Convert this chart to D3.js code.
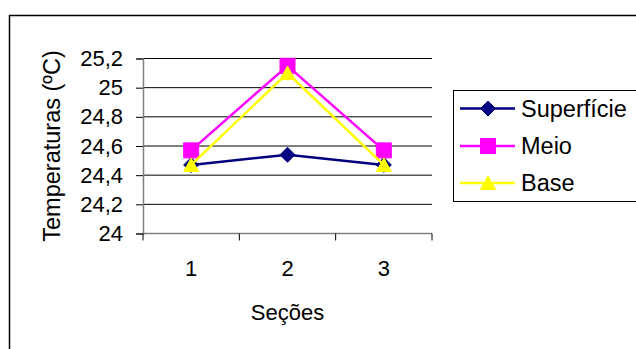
<!DOCTYPE html>
<html>
<head>
<meta charset="utf-8">
<script src="https://cdn.jsdelivr.net/npm/d3@7"></script>
<style>
  html, body { margin: 0; padding: 0; background: #fff; }
  svg { display: block; }
  text { font-family: "Liberation Sans", Arial, sans-serif; fill: #000; }
</style>
</head>
<body>
<svg id="chart" width="636" height="349"></svg>
<script>
// Sections along the x axis
const categories = ["1", "2", "3"];
// Temperature readings (ºC) per depth
const seriesNames = ["Superfície", "Meio", "Base"];
const superficie = [24.47, 24.54, 24.47];
const meio = [24.57, 25.15, 24.57];
const base = [24.47, 25.10, 24.47];
// Y axis tick values and labels
const yTicks = [24, 24.2, 24.4, 24.6, 24.8, 25, 25.2];
const yTickLabels = ["24", "24,2", "24,4", "24,6", "24,8", "25", "25,2"];

const series = [
  { name: seriesNames[0], values: superficie, color: "#000080", marker: "diamond" },
  { name: seriesNames[1], values: meio, color: "#FF00FF", marker: "square" },
  { name: seriesNames[2], values: base, color: "#FFFF00", marker: "triangle" }
];

const svg = d3.select("#chart");
const plot = { left: 143, right: 432, top: 58.5, bottom: 233.5 };

// outer chart frame
svg.append("rect")
  .attr("x", 9.5).attr("y", 15.5)
  .attr("width", 700).attr("height", 400)
  .attr("fill", "#fff").attr("stroke", "#000").attr("stroke-width", 1.5);

const x = d3.scaleBand().domain(categories).range([plot.left, plot.right]).padding(0);
const xc = c => x(c) + x.bandwidth() / 2;
const y = d3.scaleLinear().domain([24, 25.2]).range([plot.bottom, plot.top]);

// horizontal gridlines
svg.append("g").selectAll("line")
  .data(yTicks.slice(1))
  .join("line")
  .attr("x1", plot.left).attr("x2", plot.right)
  .attr("y1", d => y(d)).attr("y2", d => y(d))
  .attr("stroke", "#000").attr("stroke-width", 1);

// y axis
const yAxis = d3.axisLeft(y)
  .tickValues(yTicks)
  .tickSize(7)
  .tickPadding(13)
  .tickFormat((d, i) => yTickLabels[i]);
const gy = svg.append("g")
  .attr("transform", `translate(${plot.left},0)`)
  .call(yAxis);
gy.select(".domain").attr("stroke", "#808080").attr("stroke-width", 1.5);
gy.selectAll(".tick line").attr("stroke", "#000").attr("stroke-width", 1);
gy.selectAll(".tick text")
  .attr("font-size", 22)
  .attr("font-family", "Liberation Sans, Arial, sans-serif")
  .attr("fill", "#000");

// x axis: ticks sit on the band boundaries, labels at band centres
const gx = svg.append("g");
gx.append("line")
  .attr("x1", plot.left).attr("x2", plot.right)
  .attr("y1", plot.bottom).attr("y2", plot.bottom)
  .attr("stroke", "#808080").attr("stroke-width", 1.5);
const boundaries = categories.map(c => x(c)).concat([x(categories[categories.length - 1]) + x.bandwidth()]);
gx.selectAll("line.tk")
  .data(boundaries)
  .join("line")
  .attr("class", "tk")
  .attr("x1", d => d).attr("x2", d => d)
  .attr("y1", plot.bottom).attr("y2", plot.bottom + 7)
  .attr("stroke", "#000").attr("stroke-width", 1);
gx.selectAll("text")
  .data(categories)
  .join("text")
  .attr("x", d => xc(d))
  .attr("y", 276)
  .attr("text-anchor", "middle")
  .attr("font-size", 22)
  .text(d => d);

// axis titles
svg.append("text")
  .attr("x", xc(categories[1]))
  .attr("y", 319.5)
  .attr("text-anchor", "middle")
  .attr("font-size", 22)
  .text("Seções");
svg.append("text")
  .attr("transform", `translate(60,146) rotate(-90)`)
  .attr("text-anchor", "middle")
  .attr("font-size", 23.5)
  .text("Temperaturas (ºC)");

// marker shapes
function markerPath(type) {
  if (type === "diamond") return "M0,-7.5L7.5,0L0,7.5L-7.5,0Z";
  if (type === "square") return "M-7.5,-7.5H7.5V7.5H-7.5Z";
  return "M0,-7L7.5,6.5H-7.5Z";
}

const line = d3.line()
  .x((d, i) => xc(categories[i]))
  .y(d => y(d));

series.forEach(s => {
  const g = svg.append("g");
  g.append("path")
    .datum(s.values)
    .attr("d", line)
    .attr("fill", "none")
    .attr("stroke", s.color)
    .attr("stroke-width", 2.5);
  g.selectAll("path.mk")
    .data(s.values)
    .join("path")
    .attr("class", "mk")
    .attr("transform", (d, i) => `translate(${xc(categories[i])},${y(d)})`)
    .attr("d", markerPath(s.marker))
    .attr("fill", s.color)
    .attr("stroke", s.color)
    .attr("stroke-width", 1);
});

// legend
const lg = svg.append("g");
lg.append("rect")
  .attr("x", 453.5).attr("y", 90.5)
  .attr("width", 250).attr("height", 111)
  .attr("fill", "#fff").attr("stroke", "#000").attr("stroke-width", 1);
const rowY = [108.5, 146, 183];
series.forEach((s, i) => {
  const ry = rowY[i];
  lg.append("line")
    .attr("x1", 460).attr("x2", 515)
    .attr("y1", ry).attr("y2", ry)
    .attr("stroke", s.color).attr("stroke-width", 2.5);
  lg.append("path")
    .attr("transform", `translate(488,${ry})`)
    .attr("d", markerPath(s.marker))
    .attr("fill", s.color).attr("stroke", s.color);
  lg.append("text")
    .attr("x", 521)
    .attr("y", ry + 8)
    .attr("font-size", 23.5)
    .text(s.name);
});
</script>
</body>
</html>
